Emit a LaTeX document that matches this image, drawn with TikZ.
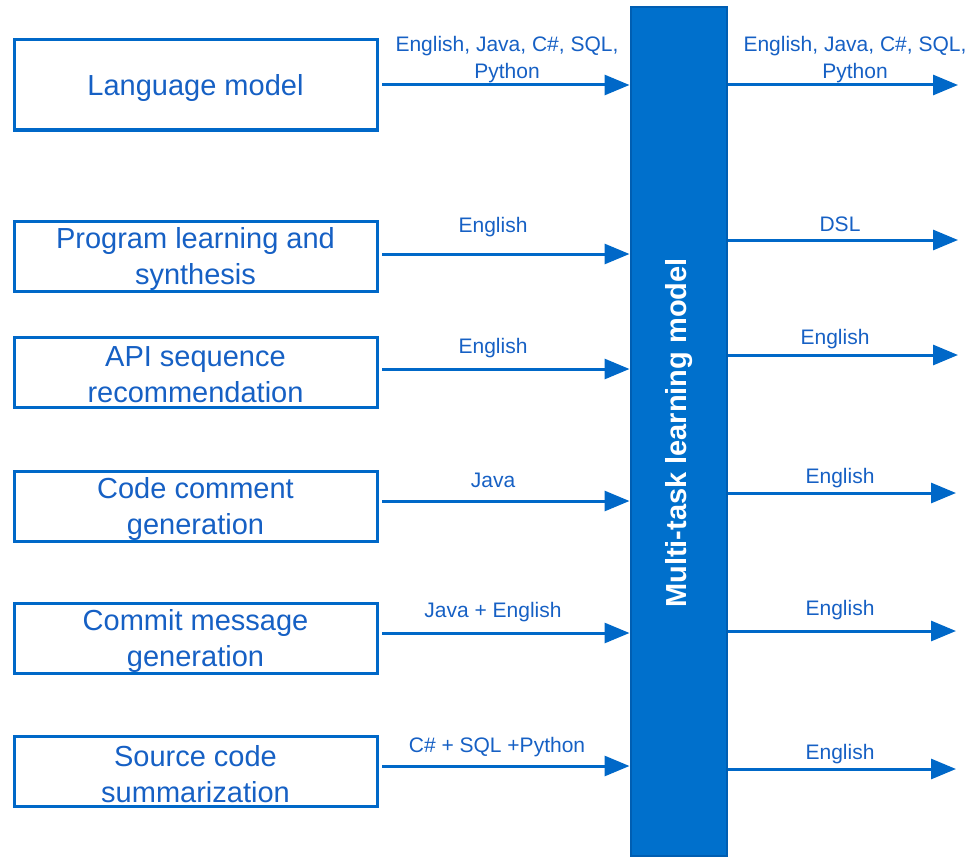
\documentclass[tikz,border=0pt]{standalone}
\usepackage{fontspec}
\setmainfont{Liberation Sans}
\usetikzlibrary{arrows.meta}
\definecolor{mblue}{RGB}{0,104,200}
\definecolor{tblue}{RGB}{22,96,196}
\definecolor{barfill}{RGB}{0,112,204}
\definecolor{barline}{RGB}{0,94,178}
\tikzset{
  taskbox/.style={draw=mblue, line width=3pt, minimum width=363pt, inner sep=0pt},
  boxtext/.style={align=center, text=tblue, font=\fontsize{29}{36}\selectfont,
    inner sep=0pt, yshift=-3pt},
  flow/.style={draw=mblue, line width=3pt, -{Triangle[length=25pt,width=20pt]}},
  lbl/.style={text=tblue, font=\fontsize{21}{27}\selectfont, align=center, inner sep=0pt},
}
\begin{document}
\begin{tikzpicture}[x=1pt,y=-1pt]
\useasboundingbox (0,0) rectangle (971,856);

% central model bar
\node[draw=barline, fill=barfill, line width=2pt, minimum width=96pt, minimum height=849pt,
      inner sep=0pt] (bar) at (678.5,431.5) {};
\node[rotate=90, text=white, font=\fontsize{29}{34}\bfseries\selectfont] (bartext)
      at (679.5,433) {Multi-task learning model};

% task boxes
\node[taskbox, minimum height=90pt, label={[boxtext]center:Language model}] (b1) at (195.5,85) {};
\node[taskbox, minimum height=70pt, label={[boxtext]center:{Program learning and\\synthesis}}] (b2) at (195.5,256) {};
\node[taskbox, minimum height=70pt, label={[boxtext]center:{API sequence\\recommendation}}] (b3) at (195.5,372) {};
\node[taskbox, minimum height=70pt, label={[boxtext]center:{Code comment\\generation}}] (b4) at (195.5,506) {};
\node[taskbox, minimum height=70pt, label={[boxtext]center:{Commit message\\generation}}] (b5) at (195.5,638) {};
\node[taskbox, minimum height=70pt, label={[boxtext]center:{Source code\\summarization}}] (b6) at (195.5,771) {};

% inputs into the model
\coordinate (i1) at (382,85);
\coordinate (i2) at (382,254);
\coordinate (i3) at (382,369);
\coordinate (i4) at (382,501);
\coordinate (i5) at (382,633);
\coordinate (i6) at (382,766);
\foreach \k in {1,...,6} {
  \draw[flow] (i\k) -- (i\k -| bar.west);
}

% outputs of the model
\coordinate (o1) at (958,85);
\coordinate (o2) at (958,240);
\coordinate (o3) at (958,355);
\coordinate (o4) at (956,493);
\coordinate (o5) at (956,631);
\coordinate (o6) at (956,769);
\foreach \k in {1,...,6} {
  \draw[flow] (o\k -| bar.east) -- (o\k);
}

% input labels
\node[lbl] (l1) at (507,60)  {English, Java, C\#, SQL,\\Python};
\node[lbl] (l2) at (493,227) {English};
\node[lbl] (l3) at (493,348) {English};
\node[lbl] (l4) at (493,480) {Java};
\node[lbl] (l5) at (493,612) {Java + English};
\node[lbl] (l6) at (497,747) {C\# + SQL +Python};

% output labels
\node[lbl] (r1) at (855,60)  {English, Java, C\#, SQL,\\Python};
\node[lbl] (r2) at (840,224) {DSL};
\node[lbl] (r3) at (835,339) {English};
\node[lbl] (r4) at (840,478) {English};
\node[lbl] (r5) at (840,610) {English};
\node[lbl] (r6) at (840,754) {English};
\end{tikzpicture}
\end{document}
